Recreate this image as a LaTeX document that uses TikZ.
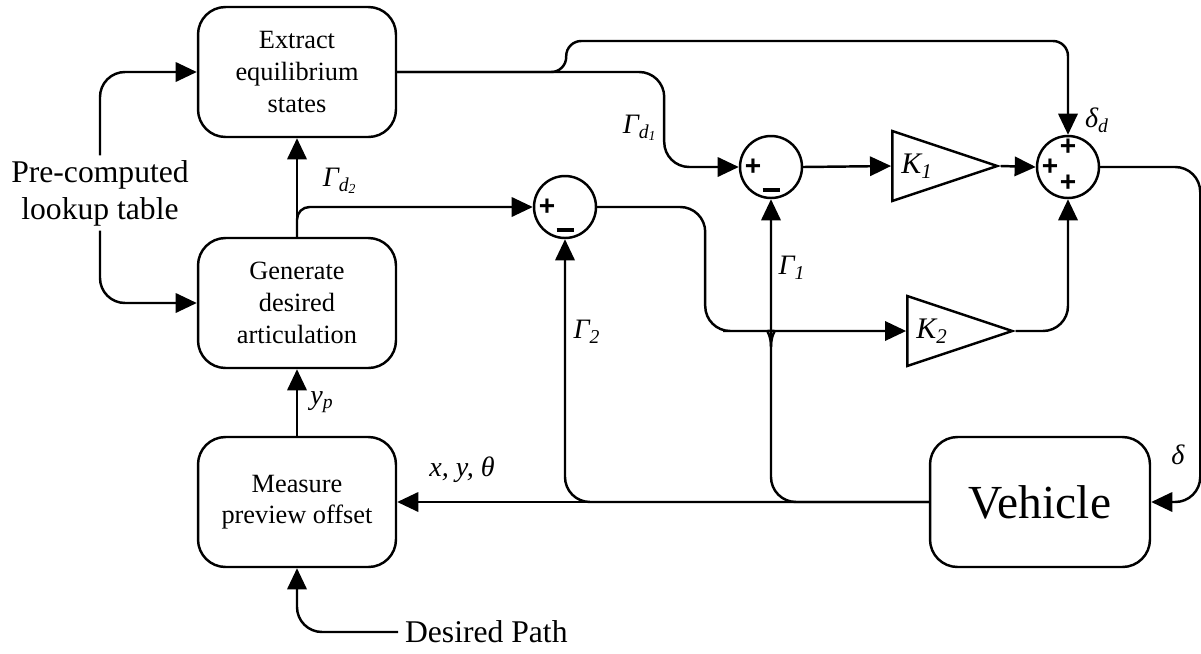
\documentclass[tikz,border=0pt]{standalone}
\usepackage{fontspec}
\setmainfont{Liberation Serif}
\newfontfamily\signfont{Liberation Sans}
\usetikzlibrary{arrows.meta,shapes.geometric}
\begin{document}
\begin{tikzpicture}[x=0.02cm,y=-0.02cm,line width=1.4pt,>={Triangle[length=12pt,width=11pt]},
 blk/.style={draw,rounded corners=0.55cm,minimum width=3.96cm,minimum height=2.6cm,align=center,font=\fontsize{15}{18}\selectfont},
 sumpt/.style={draw,circle,minimum size=1.24cm,inner sep=0pt},
 gain/.style={draw,isosceles triangle,isosceles triangle stretches,minimum width=1.4cm,minimum height=2.1cm,inner sep=0pt,font=\fontsize{17}{17}\selectfont\itshape},
 sgn/.style={font=\signfont\bfseries\fontsize{16}{16}\selectfont,inner sep=0pt},
 lbl/.style={font=\fontsize{16}{18}\selectfont\itshape},
 wire/.style={rounded corners=0.5cm}]
\useasboundingbox (0,0) rectangle (1201,653);
\node[blk] (ext) at (297,72) {Extract\\equilibrium\\states};
\node[blk] (gen) at (297,303) {Generate\\desired\\articulation};
\node[blk] (mea) at (297,502) {Measure\\preview offset};
\node[blk,minimum width=4.4cm,font=\fontsize{27}{30}\selectfont] (veh) at (1040,502) {Vehicle};
\node[align=center,font=\fontsize{18}{21}\selectfont,inner sep=2pt] (pre) at (100,193) {Pre-computed\\lookup table};
\node[font=\fontsize{18}{21}\selectfont,anchor=west] (dp) at (398,632) {Desired Path};
\node[sumpt] (s2) at (565,207) {};
\node[sumpt] (s1) at (771,167) {};
\node[sumpt] (s3) at (1068,167) {};
\node[gain] (k1) at (917,166) {K\textsubscript{1}};
\node[gain] (k2) at (932,331) {K\textsubscript{2}};
\foreach \s in {s1,s2} {
 \node[sgn] at ([xshift=-0.36cm]\s.center) {+};
 \node[sgn] at ([yshift=-0.46cm]\s.center) {\rule{0.34cm}{2.2pt}};
}
\node[sgn] at ([xshift=-0.36cm]s3.center) {+};
\node[sgn] at ([yshift=0.4cm]s3.center) {+};
\node[sgn] at ([yshift=-0.32cm]s3.center) {+};
% lookup table
\draw[->,wire] (pre.north) |- (ext.west);
\draw[->,wire] (pre.south) |- (gen.west);
\draw[->] (gen.north) -- (ext.south);
\draw[->,rounded corners=0.25cm] (gen.north) |- (s2.west);
% desired states
\draw[->,rounded corners=0.3cm] (ext.east) -- ++(169,0) -- ++(0,-31) -| (s3.north);
\draw[->,wire] (ext.east) -- ++(267,0) |- (s1.west);
\draw[->] (s1.east) -- (k1.west);
\draw[->] (k1.east) -- (s3.west);
\draw[->,wire] (s2.east) -- ++(108,0) |- (748,331) .. controls (762,331) and (771,329) .. (771,322) .. controls (771,329) and (780,331) .. (794,331) -- (k2.west);
\draw[->,wire] (k2.east) -| (s3.south);
\draw[->,wire] (s3.east) -- ++(100,0) |- (veh.east);
% feedback
\draw[->] (veh.west) -- (mea.east);
\draw[->,wire] (veh.west) -| (s1.south);
\draw[->,wire] (veh.west) -| (s2.south);
\draw[->,wire] (dp.west) -| (mea.south);
\draw[->] (mea.north) -- (gen.south);
% labels
\node[lbl] at (340,181) {Γ\textsubscript{d\textsubscript{2}}};
\node[lbl] at (640,128) {Γ\textsubscript{d\textsubscript{1}}};
\node[lbl] at (587,332) {Γ\textsubscript{2}};
\node[lbl] at (792,268) {Γ\textsubscript{1}};
\node[lbl] at (1097,120) {δ\textsubscript{d}};
\node[lbl] at (1178,455) {δ};
\node[lbl] at (322,402) {y\textsubscript{p}};
\node[lbl] at (462,470) {x, y, θ};
\end{tikzpicture}
\end{document}
